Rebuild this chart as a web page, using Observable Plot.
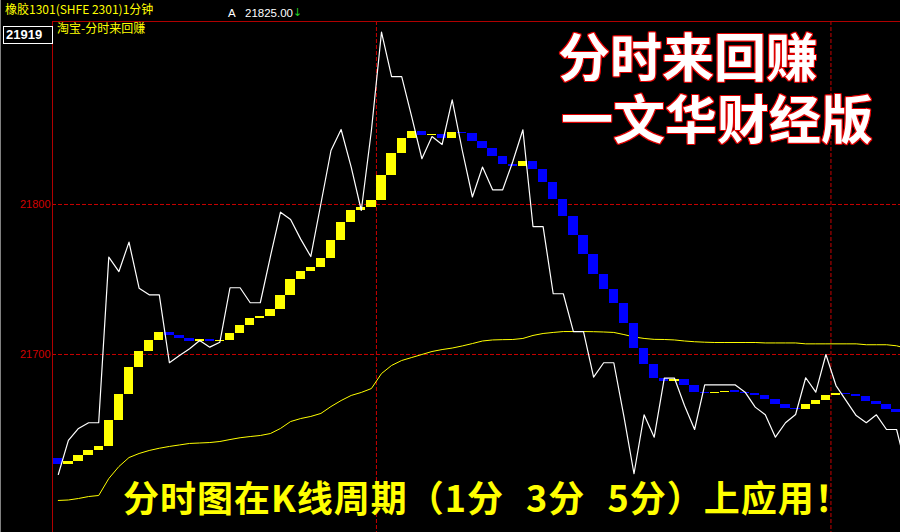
<!DOCTYPE html>
<html><head><meta charset="utf-8">
<script src="https://cdn.jsdelivr.net/npm/d3@7"></script>
<script src="https://cdn.jsdelivr.net/npm/@observablehq/plot@0.6"></script>
<style>
@font-face{font-family:"TitleCJK";font-weight:700;
 src:local("Noto Sans CJK SC Bold"),local("NotoSansCJKsc-Bold"),local("Noto Sans CJK SC"),local("NotoSansCJKsc-Regular");
 ascent-override:90%;descent-override:10%;line-gap-override:0%;}
html,body{margin:0;padding:0;background:#000;}
#wrap{position:relative;width:900px;height:532px;overflow:hidden;background:#000;font-family:"Noto Sans CJK SC",sans-serif;}
#chart{position:absolute;left:0;top:0;}
.abs{position:absolute;white-space:nowrap;}
.hline{position:absolute;background:#b00000;}
.title{font-family:"TitleCJK","Noto Sans CJK SC",sans-serif;font-size:52px;font-weight:700;color:#fff;line-height:62px;white-space:pre;
 text-shadow:1px 0 #e00000,-1px 0 #e00000,0 1px #e00000,0 -1px #e00000,1px 1px #e00000,-1px -1px #e00000,1px -1px #e00000,-1px 1px #e00000;}
</style></head><body>
<div id="wrap">
  <div id="chart"></div>
  <div class="hline" style="left:52px;top:21px;width:848px;height:1px;"></div>
  <div class="hline" style="left:52px;top:21px;width:1px;height:511px;"></div>
  <div class="abs" style="left:0;top:0;width:1px;height:532px;background:#808080;"></div>
  <div class="abs" style="left:5px;top:0px;font-size:12px;line-height:17px;color:#ffff00;">橡胶1301(SHFE 2301)1分钟</div>
  <div class="abs" style="left:228px;top:7px;font-size:11.5px;line-height:12px;color:#fff;font-family:'Liberation Sans',sans-serif;">A</div>
  <div class="abs" style="left:245px;top:7px;font-size:11.5px;line-height:12px;color:#fff;font-family:'Liberation Sans',sans-serif;">21825.00</div>
  <div class="abs" style="left:293px;top:7px;font-size:11px;line-height:12px;color:#22cc22;font-family:'DejaVu Sans',sans-serif;">↓</div>
  <div class="abs" style="left:3px;top:26px;width:50px;height:18px;box-sizing:border-box;border:1px solid #fff;background:#000;color:#fff;font:bold 13px/16px 'Liberation Sans',sans-serif;padding-left:2px;">21919</div>
  <div class="abs" style="left:57px;top:19px;font-size:12px;line-height:17px;color:#ffff00;">淘宝-分时来回赚</div>
  <div class="abs title" style="left:558px;top:25px;">分时来回赚
<span style="margin-left:3px;">一文华财经版</span></div>
  <div class="abs" style="left:123px;top:478px;font-size:36px;line-height:36px;font-weight:700;color:#ffff00;letter-spacing:1px;word-spacing:13px;">分时图在K线周期（1分 3分 5分）上应用！</div>
</div>
<script>
// Indicator step levels: first value = open of first box, then close of each box
const barLevels = [21630.9, 21626.9, 21628.7, 21632.7, 21636, 21638.7, 21656, 21673.3, 21691.5, 21702,
  21709.3, 21714.7, 21712.7, 21710.9, 21708.9, 21709.7, 21708.7, 21709.1, 21714.2, 21719.3,
  21723.8, 21725.5, 21730, 21739.3, 21750, 21755.3, 21758, 21764, 21776, 21788,
  21796, 21798, 21802.7, 21819.3, 21834, 21844, 21848.7, 21846, 21846.7, 21844,
  21848, 21847.3, 21842, 21837.3, 21832, 21826.7, 21825.5, 21828.9, 21823.3, 21814.9,
  21803.3, 21792.2, 21779.3, 21766.9, 21753.5, 21743.3, 21734, 21720.7, 21704.2, 21693.5,
  21684.2, 21682, 21683, 21679.3, 21674.7, 21674, 21674.5, 21675.5, 21674.9, 21674,
  21672.7, 21670, 21666.7, 21664, 21663.5, 21666.7, 21669.3, 21672.7, 21674, 21673.3,
  21672, 21668.7, 21666.9, 21663.3, 21661.3];
// 1-minute price (white line)
const price = [21620, 21642.7, 21650.7, 21654.5, 21654.5, 21764.9, 21755.3, 21774.9, 21744.2, 21739.8,
  21739.8, 21694.5, 21699.3, 21703.8, 21709.3, 21704.9, 21708.2, 21744.5, 21744.5, 21734.5,
  21734.5, 21765.3, 21794.9, 21790, 21776.9, 21765.3, 21800.5, 21836, 21850, 21824.9,
  21796, 21849.3, 21914.9, 21885.3, 21885.3, 21858.2, 21830.5, 21845.3, 21840, 21869.8,
  21836, 21805, 21825, 21809.8, 21809.8, 21828.7, 21849.8, 21785.3, 21785.3, 21740.5,
  21740.5, 21715.3, 21715.3, 21684.9, 21694.5, 21694.5, 21658.7, 21620.5, 21659.8, 21644.9,
  21684.2, 21684.3, 21666, 21650, 21679.8, 21679.8, 21679.8, 21679.8, 21674.9, 21664.9,
  21659.8, 21644.9, 21654.5, 21660, 21684.5, 21674.9, 21700, 21679.3, 21669.3, 21659.3,
  21654.5, 21659.8, 21650, 21650, 21622.7];
// average price (yellow line)
const avgPrice = [21602.7, 21603, 21604, 21605.3, 21606, 21617.3, 21625.3, 21631.3, 21634, 21636,
  21637.5, 21638.7, 21639.7, 21640.7, 21641, 21641.3, 21642, 21643.3, 21644.5, 21645.3,
  21646, 21647.3, 21650.7, 21655.3, 21657.3, 21658.7, 21660.7, 21665.3, 21669.3, 21672.7,
  21674.7, 21677.3, 21687.3, 21692.7, 21696, 21698, 21700, 21702, 21703.3, 21704.3,
  21705.7, 21707.3, 21709, 21709.7, 21709.9, 21710, 21710.7, 21712.7, 21714, 21714.7,
  21715.3, 21715.3, 21715.3, 21715.2, 21715, 21714.7, 21713.3, 21711.7, 21710.7, 21710.1,
  21710, 21709.7, 21709, 21708.5, 21708.2, 21708, 21708, 21708, 21708, 21708,
  21707.7, 21707.7, 21707.7, 21707.7, 21707.1, 21707.1, 21707.1, 21707.1, 21707.1, 21707.1,
  21706.5, 21706.5, 21706.5, 21705.8, 21704];
const yTicks = [21700, 21800];
const sessionBreaks = [31.5, 76.5];

const bars = d3.range(barLevels.length - 1).map(i => {
  const open = barLevels[i], close = barLevels[i + 1];
  let lo = Math.min(open, close), hi = Math.max(open, close);
  if (hi - lo < 1) { const m = (hi + lo) / 2; lo = m - 0.5; hi = m + 0.5; }
  return {i, lo, hi, up: close > open};
});
const priceRows = price.map((v, i) => ({i, v}));
const avgRows = avgPrice.map((v, i) => ({i, v}));

const chart = Plot.plot({
  width: 900, height: 532,
  marginTop: 21, marginBottom: 0, marginLeft: 52, marginRight: 0,
  style: {background: "#000", color: "#d00000", fontFamily: "'Liberation Sans', sans-serif", fontSize: "11px"},
  x: {domain: [-0.574, 83.386], axis: null},
  y: {domain: [21581.33, 21922], ticks: yTicks, tickFormat: d => String(d), tickSize: 0, tickPadding: 2, label: null},
  marks: [
    Plot.ruleY(yTicks, {stroke: "#c80000", strokeDasharray: "4,2", strokeWidth: 1}),
    Plot.ruleX(sessionBreaks, {stroke: "#c80000", strokeDasharray: "4,2", strokeWidth: 1}),
    Plot.line(avgRows, {x: "i", y: "v", stroke: "#ffff00", strokeWidth: 1, clip: true}),
    Plot.rect(bars.filter(d => d.up), {x1: d => d.i - 0.46, x2: d => d.i + 0.46, y1: "lo", y2: "hi", fill: "#ffff00", shapeRendering: "crispEdges", clip: true}),
    Plot.rect(bars.filter(d => !d.up), {x1: d => d.i - 0.46, x2: d => d.i + 0.46, y1: "lo", y2: "hi", fill: "#0000ff", shapeRendering: "crispEdges", clip: true}),
    Plot.line(priceRows, {x: "i", y: "v", stroke: "#ffffff", strokeWidth: 1.2, clip: true})
  ]
});
document.getElementById("chart").appendChild(chart);
</script>
</body></html>
